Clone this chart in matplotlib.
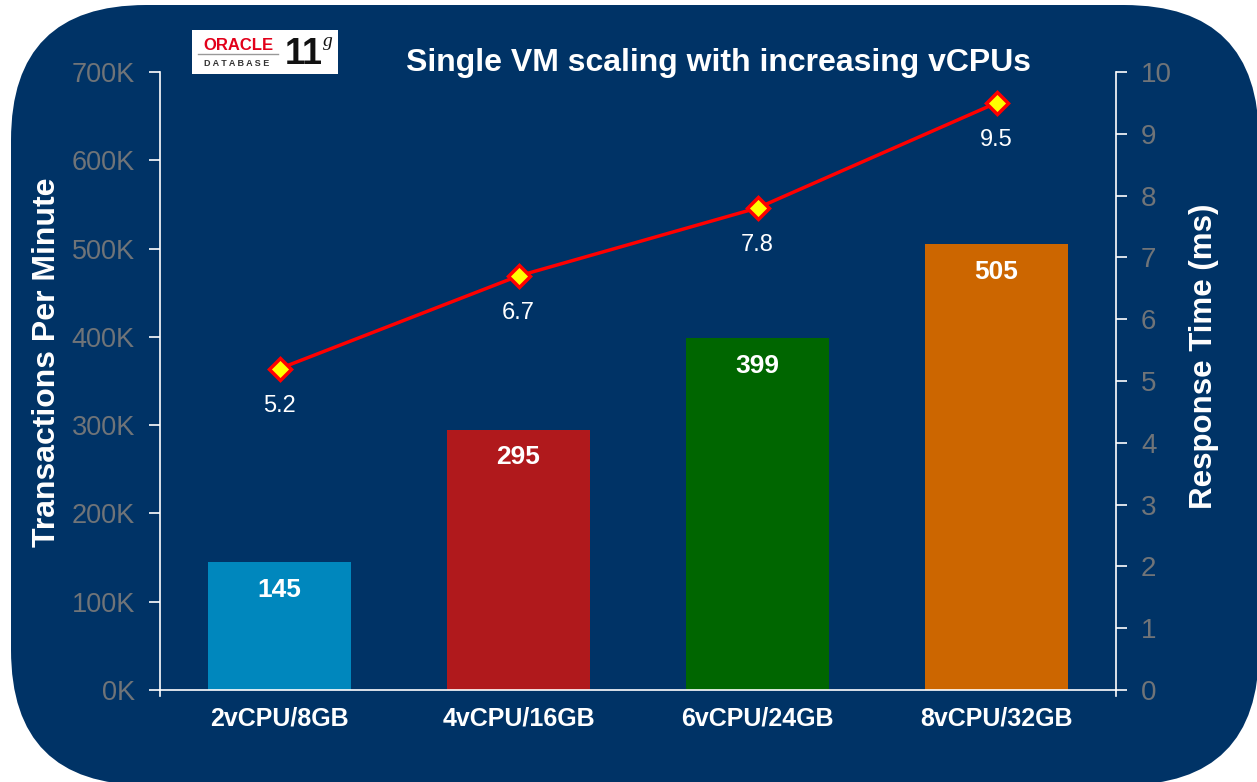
import matplotlib.pyplot as plt
import numpy as np
from matplotlib.patches import FancyBboxPatch, Rectangle

plt.rcParams['font.family'] = ['Liberation Sans', 'DejaVu Sans']

# data
configs = ['2vCPU/8GB', '4vCPU/16GB', '6vCPU/24GB', '8vCPU/32GB']
tpm_k = [145, 295, 399, 505]
resp_ms = [5.2, 6.7, 7.8, 9.5]
bar_colors = ['#0087bd', '#b0191c', '#006600', '#cc6600']
left_ticks = [0, 100, 200, 300, 400, 500, 600, 700]
right_ticks = list(range(0, 11))

navy = '#003366'
grey = '#707478'

W, H = 1257, 782
fig = plt.figure(figsize=(W / 100, H / 100), dpi=100)
fig.patch.set_facecolor('white')

# rounded navy background, drawn in pixel units
bg = fig.add_axes([0, 0, 1, 1])
bg.set_xlim(0, W)
bg.set_ylim(H, 0)
bg.axis('off')
bg.add_patch(FancyBboxPatch((11, 5), 1248, 780,
                            boxstyle='round,pad=0,rounding_size=135',
                            facecolor=navy, edgecolor='none'))

# oracle logo box
bg.add_patch(Rectangle((192, 30), 146, 44, facecolor='white', edgecolor='none'))
bg.text(238, 45, 'ORACLE', color='#e2001a', fontsize=12, fontweight='bold',
        ha='center', va='center')
bg.plot([198, 278], [54, 54], color='#999999', lw=1)
bg.text(237, 63, 'D A T A B A S E', color='#333333', fontsize=6.5, fontweight='bold',
        ha='center', va='center')
bg.text(304, 54, '11', color='#111111', fontsize=26, fontweight='bold',
        ha='center', va='center')
bg.text(328, 41, 'g', color='#111111', fontsize=14, style='italic',
        family='Liberation Serif', ha='center', va='center')

# main axes
ax = fig.add_axes([160 / W, 1 - 690 / H, (1116 - 160) / W, (690 - 72) / H])
ax.set_facecolor('none')
x = np.arange(len(configs))
ax.bar(x, tpm_k, width=0.6, color=bar_colors, zorder=2)
for xi, v in zip(x, tpm_k):
    ax.annotate(str(v), (xi, v), xytext=(0, -20), textcoords='offset points',
                ha='center', va='center', color='white', fontsize=19, fontweight='bold')

ax.set_xlim(-0.5, 3.5)
ax.set_ylim(0, 700)
ax.set_yticks(left_ticks)
ax.set_yticklabels([f'{t}K' for t in left_ticks])
ax.set_xticks(x)
ax.set_xticklabels(configs)
ax.tick_params(axis='x', length=0, pad=12, labelsize=18, labelcolor='white')
ax.tick_params(axis='y', length=8, width=1.2, color='white', labelsize=19.5,
               labelcolor=grey, pad=10)
for lbl in ax.get_xticklabels():
    lbl.set_fontweight('bold')
ax.spines['top'].set_visible(False)
ax.spines['right'].set_visible(False)
ax.spines['left'].set_color('white')
ax.spines['bottom'].set_color('white')
ax.spines['left'].set_linewidth(1.2)
ax.spines['bottom'].set_linewidth(1.2)
# short stubs where the spines cross the base line
ax.plot([0, 0], [0, -0.01], transform=ax.transAxes, color='white', lw=1.2, clip_on=False)
ax.plot([1, 1], [0, -0.01], transform=ax.transAxes, color='white', lw=1.2, clip_on=False)
ax.set_ylabel('Transactions Per Minute', color='white', fontsize=23,
              fontweight='bold', labelpad=7, y=0.531)

# right axis
ax2 = ax.twinx()
ax2.set_ylim(0, 10)
ax2.set_yticks(right_ticks)
ax2.plot(x, resp_ms, color='#ff0000', lw=2.5, marker='D', markersize=11,
         markerfacecolor='#ffff00', markeredgecolor='#ff0000', markeredgewidth=2.5,
         zorder=3)
for xi, v in zip(x, resp_ms):
    ax2.annotate(f'{v}', (xi, v), xytext=(0, -27), textcoords='offset points',
                 ha='center', va='center', color='white', fontsize=17)
ax2.tick_params(axis='y', length=8, width=1.2, color='white', labelsize=20,
                labelcolor=grey, pad=10)
ax2.spines['top'].set_visible(False)
ax2.spines['left'].set_visible(False)
ax2.spines['bottom'].set_visible(False)
ax2.spines['right'].set_color('white')
ax2.spines['right'].set_linewidth(1.2)
ax2.set_ylabel('Response Time (ms)', color='white', fontsize=22.5,
               fontweight='bold', labelpad=12, y=0.54)

fig.text(718 / W, 1 - 63 / H, 'Single VM scaling with increasing vCPUs',
         color='white', fontsize=23, fontweight='bold', ha='center', va='center')

fig.savefig('out.png', dpi=100, facecolor='white')
